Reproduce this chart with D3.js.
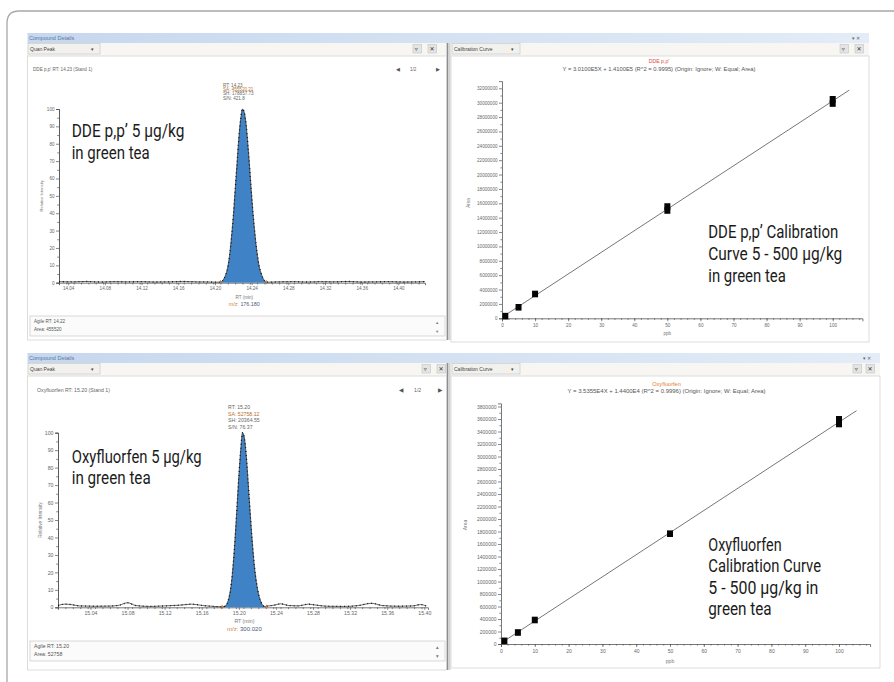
<!DOCTYPE html>
<html><head><meta charset="utf-8">
<script src="https://cdn.jsdelivr.net/npm/d3@7"></script>
<style>
body{margin:0;background:#fff}
svg{display:block}
.ui{font-family:"Liberation Sans","DejaVu Sans",sans-serif;}
.ann{font-family:Roboto,"Liberation Sans",sans-serif;font-size:17.5px;font-weight:400;fill:#1b1b1b;}
</style></head>
<body>
<svg id="c" width="894" height="682"></svg>
<script>
// ---------------- DATA ----------------
// DDE p,p' chromatogram (RT in min, relative intensity %)
const ddeRTTicks = [14.04,14.08,14.12,14.16,14.20,14.24,14.28,14.32,14.36,14.40];
const ddeBaseRT  = [14.030,14.045,14.060,14.075,14.090,14.105,14.120,14.135,14.150,14.165,14.180,14.195,14.204,14.258,14.270,14.285,14.300,14.315,14.330,14.345,14.360,14.375,14.390,14.405,14.420,14.429];
const ddeBaseInt = [0.6,0.5,0.7,0.4,0.6,0.5,0.6,0.4,0.5,0.7,0.5,0.4,0.3,0.3,0.5,0.6,0.4,0.6,0.5,0.7,0.4,0.5,0.6,0.4,0.5,0.6];
const ddePeakRT  = [14.206,14.208,14.210,14.212,14.214,14.216,14.218,14.220,14.222,14.224,14.226,14.228,14.230,14.232,14.234,14.236,14.238,14.240,14.242,14.244,14.246,14.248,14.250,14.252,14.254,14.256];
const ddePeakInt = [0.3,1,2.5,5,9,16,26,38,53,68,83,94,100,98,91,79,65,50,37,26,17,10,6,3,1.2,0.3];
const ddeIntegration = [14.206,14.256];

// Oxyfluorfen chromatogram
const oxyRTTicks = [15.04,15.08,15.12,15.16,15.20,15.24,15.28,15.32,15.36,15.40];
const oxyBaseRT  = [15.005,15.012,15.020,15.028,15.045,15.061,15.071,15.080,15.089,15.104,15.120,15.136,15.149,15.161,15.173,15.181,15.230,15.238,15.245,15.254,15.264,15.275,15.284,15.296,15.313,15.329,15.343,15.355,15.372,15.388,15.396,15.402];
const oxyBaseInt = [1.0,1.8,1.5,0.8,0.6,0.7,1.2,2.6,1.0,0.5,0.8,1.2,1.8,1.0,0.5,0.3,0.6,1.2,2.0,1.0,0.8,1.8,1.2,0.6,0.5,1.0,2.3,1.0,0.6,0.8,1.6,0.8];
const oxyPeakRT  = [15.183,15.186,15.188,15.190,15.192,15.194,15.196,15.198,15.200,15.202,15.204,15.206,15.208,15.210,15.212,15.214,15.216,15.218,15.220,15.222,15.224,15.226,15.229];
const oxyPeakInt = [0.3,1,3,7,14,25,40,57,75,90,100,97,87,72,56,41,28,18,11,6,3,1,0.4];
const oxyIntegration = [15.182,15.230];

const intensityTicks = [0,10,20,30,40,50,60,70,80,90,100];

// Calibration curves (ppb, area)
const ddeCalX    = [1,5,10,50,50,100,100];
const ddeCalArea = [300000,1530000,3380000,15000000,15550000,29880000,30470000];
const ddeFit     = {slope:301000, intercept:141000};
const ddeAreaTicks = [0,2000000,4000000,6000000,8000000,10000000,12000000,14000000,16000000,18000000,20000000,22000000,24000000,26000000,28000000,30000000,32000000];

const oxyCalX    = [1,5,10,50,100,100];
const oxyCalArea = [50000,184000,384000,1765000,3520000,3595000];
const oxyFit     = {slope:35355, intercept:14400};
const oxyAreaTicks = [0,200000,400000,600000,800000,1000000,1200000,1400000,1600000,1800000,2000000,2200000,2400000,2600000,2800000,3000000,3200000,3400000,3600000,3800000];

const ppbTicks = [0,10,20,30,40,50,60,70,80,90,100];

// Texts
const txt = {
  details:"Compound Details", quan:"Quan Peak", calib:"Calibration Curve",
  ddeHeader:"DDE p,p'   RT: 14.23   (Stand 1)", oxyHeader:"Oxyfluorfen   RT: 15.20   (Stand 1)",
  ddePeakInfo:["RT: 14.23","SA: 455520.21","SH: 178857.73","S/N: 421.8"],
  oxyPeakInfo:["RT: 15.20","SA: 52758.12","SH: 20364.55","S/N: 76.37"],
  ddeMz:"176.180", oxyMz:"300.020",
  ddeInfo:["Agile RT: 14.22","Area: 455520"], oxyInfo:["Agile RT: 15.20","Area: 52758"],
  ddeName:"DDE p,p'", oxyName:"Oxyfluorfen",
  ddeEq:"Y = 3.0100E5X + 1.4100E5  (R^2 = 0.9995)  (Origin: Ignore; W: Equal; Area)",
  oxyEq:"Y = 3.5355E4X + 1.4400E4  (R^2 = 0.9996)  (Origin: Ignore; W: Equal; Area)",
  ddeAnnL:["DDE p,p\u2019 5 \u00b5g/kg","in green tea"],
  ddeAnnR:["DDE p,p\u2019 Calibration","Curve 5 - 500 \u00b5g/kg","in green tea"],
  oxyAnnL:["Oxyfluorfen 5 \u00b5g/kg","in green tea"],
  oxyAnnR:["Oxyfluorfen","Calibration Curve","5 - 500 \u00b5g/kg in","green tea"]
};

// ---------------- DRAW ----------------
const svg = d3.select("#c");
svg.append("rect").attr("width",894).attr("height",682).attr("fill","#fff");
const defs = svg.append("defs");
const gr = defs.append("linearGradient").attr("id","band").attr("x1","0").attr("x2","1").attr("y1","0").attr("y2","0");
gr.append("stop").attr("offset","0").attr("stop-color","#c6d7ee");
gr.append("stop").attr("offset","1").attr("stop-color","#e3ecf7");

// outer frame
svg.append("path").attr("d","M7,682 V23 Q7,11 19,11 H894").attr("fill","none").attr("stroke","#a8a8a8").attr("stroke-width",1.3);

function chrome(cfg){
  const g = svg.append("g").attr("class","ui");
  g.append("rect").attr("x",27.5).attr("y",cfg.y0).attr("width",cfg.xr-27.5).attr("height",10).attr("fill","url(#band)");
  g.append("text").attr("x",29).attr("y",cfg.y0+7).attr("font-size",5.5).attr("fill","#5a77a0").text(txt.details);
  g.append("text").attr("x",cfg.xr-17).attr("y",cfg.y0+6.5).attr("font-size",5).attr("fill","#666").text("\u25be  \u2715");
  g.append("rect").attr("x",27.5).attr("y",cfg.y0+10).attr("width",cfg.xr-27.5).attr("height",13).attr("fill","#f7f6f3");
  g.append("rect").attr("x",27.5).attr("y",cfg.y0+23).attr("width",419).attr("height",cfg.yl-cfg.y0-23).attr("fill","#fff").attr("stroke","#d4d4d4").attr("stroke-width",0.8);
  g.append("rect").attr("x",451).attr("y",cfg.y0+23).attr("width",cfg.xr-451).attr("height",cfg.yr-cfg.y0-23).attr("fill","#fff").attr("stroke","#d4d4d4").attr("stroke-width",0.8);
  g.append("rect").attr("x",446).attr("y",cfg.y0+10).attr("width",4.5).attr("height",cfg.yl-cfg.y0-10).attr("fill","#d2d2d2");
  g.append("line").attr("x1",447.5).attr("x2",447.5).attr("y1",cfg.y0+10).attr("y2",cfg.yl).attr("stroke","#8d8d8d").attr("stroke-width",1);
  [[28,72,txt.quan],[452,68,txt.calib]].forEach(d=>{
    g.append("rect").attr("x",d[0]).attr("y",cfg.y0+10.5).attr("width",d[1]).attr("height",10.5).attr("fill","#f2f1ee").attr("stroke","#c9c9c9").attr("stroke-width",0.7);
    g.append("text").attr("x",d[0]+2).attr("y",cfg.y0+17.8).attr("font-size",5).attr("fill","#444").text(d[2]);
    g.append("text").attr("x",d[0]+d[1]-9).attr("y",cfg.y0+17.8).attr("font-size",5).attr("fill","#444").text("\u25be");
  });
  cfg.buttons.forEach(bx=>{
    g.append("rect").attr("x",bx).attr("y",cfg.y0+11.5).attr("width",8.5).attr("height",8.5).attr("fill","#e4e4e4").attr("stroke","#c4c4c4").attr("stroke-width",0.6);
  });
  g.append("text").attr("x",cfg.buttons[0]+1.8).attr("y",cfg.y0+18.3).attr("font-size",6).attr("fill","#333").text("\u25bf");
  g.append("text").attr("x",cfg.buttons[1]+1.6).attr("y",cfg.y0+18.3).attr("font-size",6).attr("fill","#333").text("\u2715");
  g.append("text").attr("x",cfg.buttons[2]+1.8).attr("y",cfg.y0+18.3).attr("font-size",6).attr("fill","#333").text("\u25bf");
  g.append("text").attr("x",cfg.buttons[3]+1.6).attr("y",cfg.y0+18.3).attr("font-size",6).attr("fill","#333").text("\u2715");
}

chrome({y0:33,xr:869,yl:340,yr:342,buttons:[413,428,840,855]});
chrome({y0:353,xr:880,yl:670,yr:668,buttons:[422,437,853,866]});

function styleAxis(sel,fs){
  sel.selectAll("path.domain").attr("stroke","#555").attr("stroke-width",0.8);
  sel.selectAll(".tick line").attr("stroke","#555").attr("stroke-width",0.7);
  sel.selectAll(".tick text").attr("font-size",fs).attr("fill","#666").attr("font-family","Liberation Sans, sans-serif");
}

function chromatogram(c){
  const g = svg.append("g");
  const x = d3.scaleLinear().domain(c.xd).range(c.xr);
  const y = d3.scaleLinear().domain([0,100]).range(c.yr);
  const fs = c.fs;
  g.append("text").attr("class","ui").attr("x",c.hx).attr("y",c.hy).attr("font-size",fs).attr("fill","#666").text(c.header);
  g.append("text").attr("class","ui").attr("x",c.nav[0]).attr("y",c.hy).attr("font-size",fs+0.5).attr("fill","#555").text("\u25c0");
  g.append("text").attr("class","ui").attr("x",c.nav[1]).attr("y",c.hy).attr("font-size",fs).attr("fill","#666").text("1/2");
  g.append("text").attr("class","ui").attr("x",c.nav[2]).attr("y",c.hy).attr("font-size",fs+0.5).attr("fill","#555").text("\u25b6");
  const ya = g.append("g").attr("transform",`translate(${c.xr[0]},0)`).call(d3.axisLeft(y).tickValues(intensityTicks).tickSize(3).tickPadding(1.5));
  styleAxis(ya,fs);
  const yminor = g.append("g").attr("transform",`translate(${c.xr[0]},0)`).call(d3.axisLeft(y).tickValues(d3.range(5,100,10)).tickSize(1.8).tickFormat(""));
  styleAxis(yminor,fs);
  const xa = g.append("g").attr("transform",`translate(0,${c.yr[0]})`).call(d3.axisBottom(x).tickValues(c.ticks).tickSize(2.5).tickPadding(2).tickFormat(d3.format(".2f")));
  styleAxis(xa,fs);
  const minorVals = d3.range(c.xd[0],c.xd[1],0.008);
  const xminor = g.append("g").attr("transform",`translate(0,${c.yr[0]})`).call(d3.axisBottom(x).tickValues(minorVals).tickSize(1.8).tickFormat(""));
  styleAxis(xminor,fs);
  xminor.select("path.domain").remove();
  g.append("text").attr("class","ui").attr("transform",`translate(${c.ylx},${(c.yr[0]+c.yr[1])/2}) rotate(-90)`).attr("text-anchor","middle").attr("font-size",fs-0.5).attr("fill","#777").text("Relative Intensity");
  const pts = c.baseRT.map((r,i)=>[r,c.baseInt[i]]).concat(c.peakRT.map((r,i)=>[r,c.peakInt[i]])).sort((a,b)=>a[0]-b[0]);
  const peak = c.peakRT.map((r,i)=>[r,c.peakInt[i]]);
  g.append("path").datum(peak).attr("d",d3.area().x(d=>x(d[0])).y0(y(0)).y1(d=>y(d[1])).curve(d3.curveMonotoneX)).attr("fill","#3f83c6");
  g.append("path").datum(pts).attr("d",d3.line().x(d=>x(d[0])).y(d=>y(d[1])).curve(d3.curveMonotoneX)).attr("fill","none").attr("stroke","#2a2a2a").attr("stroke-width",0.7);
  g.append("path").datum(pts).attr("d",d3.line().x(d=>x(d[0])).y(d=>y(d[1])).curve(d3.curveMonotoneX)).attr("fill","none").attr("stroke","#111").attr("stroke-width",1.3).attr("stroke-dasharray","0.9 3");
  c.integ.forEach(r=>{
    g.append("line").attr("x1",x(r)).attr("x2",x(r)).attr("y1",y(0)+1.5).attr("y2",y(0)-2.5).attr("stroke","#e07030").attr("stroke-width",1);
  });
  c.peakInfo.forEach((t,i)=>{
    g.append("text").attr("class","ui").attr("x",c.pix).attr("y",c.piy+i*c.pil).attr("font-size",fs).attr("fill",i===1?"#b8702c":"#666").text(t);
  });
  const cx = x(c.peakRT[Math.floor(c.peakRT.length/2)]);
  g.append("text").attr("class","ui").attr("x",cx).attr("y",c.rty).attr("text-anchor","middle").attr("font-size",fs).attr("fill","#777").text("RT (min)");
  const mz = g.append("text").attr("class","ui").attr("x",cx).attr("y",c.rty+c.mzd).attr("text-anchor","middle").attr("font-size",fs+0.8);
  mz.append("tspan").attr("fill","#d08040").text("m/z: ");
  mz.append("tspan").attr("fill","#4a5a7a").text(c.mz);
  g.append("rect").attr("x",30).attr("y",c.box[0]).attr("width",415).attr("height",c.box[1]).attr("fill","#fbfbfb").attr("stroke","#cfcfcf").attr("stroke-width",0.8);
  c.info.forEach((t,i)=>{
    g.append("text").attr("class","ui").attr("x",34).attr("y",c.box[0]+c.box[1]*0.36+i*c.box[1]*0.38).attr("font-size",fs).attr("fill","#555").text(t);
  });
  g.append("text").attr("class","ui").attr("x",436).attr("y",c.box[0]+c.box[1]*0.38).attr("font-size",fs).attr("fill","#777").text("\u25b4");
  g.append("text").attr("class","ui").attr("x",436).attr("y",c.box[0]+c.box[1]*0.85).attr("font-size",fs).attr("fill","#777").text("\u25be");
  c.ann.forEach((t,i)=>{
    g.append("text").attr("class","ann").attr("x",c.annX).attr("y",c.annY[i]).attr("textLength",c.annW[i]).attr("lengthAdjust","spacingAndGlyphs").text(t);
  });
}

chromatogram({xd:[14.030,14.429],xr:[59,425],yr:[282.7,109],fs:4.6,
  ticks:ddeRTTicks,baseRT:ddeBaseRT,baseInt:ddeBaseInt,peakRT:ddePeakRT,peakInt:ddePeakInt,integ:ddeIntegration,
  header:txt.ddeHeader,hx:33,hy:71,nav:[396,410,436],ylx:43,
  peakInfo:txt.ddePeakInfo,pix:223,piy:86.5,pil:4.4,rty:298.5,mzd:7.5,mz:txt.ddeMz,
  box:[316,20],info:txt.ddeInfo,
  ann:txt.ddeAnnL,annX:71.7,annY:[137.3,158.8],annW:[112.7,78]});

chromatogram({xd:[15.005,15.404],xr:[58,428],yr:[607.3,432.7],fs:5.2,
  ticks:oxyRTTicks,baseRT:oxyBaseRT,baseInt:oxyBaseInt,peakRT:oxyPeakRT,peakInt:oxyPeakInt,integ:oxyIntegration,
  header:txt.oxyHeader,hx:37,hy:391.5,nav:[399,414,438],ylx:42,
  peakInfo:txt.oxyPeakInfo,pix:228,piy:409,pil:6.5,rty:623,mzd:8,mz:txt.oxyMz,
  box:[641,20],info:txt.oxyInfo,
  ann:txt.oxyAnnL,annX:71.7,annY:[462.5,484],annW:[130,79]});

function calibration(c){
  const g = svg.append("g");
  const x = d3.scaleLinear().domain(c.xd).range(c.xr);
  const y = d3.scaleLinear().domain(c.yd).range(c.yr);
  const fs = c.fs;
  g.append("text").attr("class","ui").attr("x",c.tx).attr("y",c.ty).attr("text-anchor","middle").attr("font-size",fs+0.6).attr("fill",c.tcol).text(c.title);
  g.append("text").attr("class","ui").attr("x",c.tx).attr("y",c.ty+7.5).attr("text-anchor","middle").attr("font-size",fs).attr("fill","#555").attr("textLength",c.eqW).attr("lengthAdjust","spacingAndGlyphs").text(c.eq);
  const ya = g.append("g").attr("transform",`translate(${c.xr[0]},0)`).call(d3.axisLeft(y).tickValues(c.yticks).tickSize(3).tickPadding(1.5).tickFormat(d3.format("d")));
  styleAxis(ya,fs);
  const step = c.yticks[1]-c.yticks[0];
  const ym = g.append("g").attr("transform",`translate(${c.xr[0]},0)`).call(d3.axisLeft(y).tickValues(c.yticks.map(v=>v+step/2).filter(v=>v<c.yd[1])).tickSize(1.6).tickFormat(""));
  styleAxis(ym,fs); ym.select("path.domain").remove();
  const xa = g.append("g").attr("transform",`translate(0,${c.yr[0]})`).call(d3.axisBottom(x).tickValues(ppbTicks).tickSize(3).tickPadding(2.5));
  styleAxis(xa,fs);
  const xm = g.append("g").attr("transform",`translate(0,${c.yr[0]})`).call(d3.axisBottom(x).tickValues(d3.range(0,c.xd[1],2)).tickSize(1.6).tickFormat(""));
  styleAxis(xm,fs); xm.select("path.domain").remove();
  g.append("text").attr("class","ui").attr("x",(c.xr[0]+x(100))/2).attr("y",c.yr[0]+c.ppbd).attr("text-anchor","middle").attr("font-size",fs).attr("fill","#777").text("ppb");
  g.append("text").attr("class","ui").attr("transform",`translate(${c.alx},${c.aly}) rotate(-90)`).attr("text-anchor","middle").attr("font-size",fs).attr("fill","#777").text("Area");
  const lx = [0, c.lineEnd];
  g.append("line").attr("x1",x(lx[0])).attr("y1",y(c.fit.intercept+c.fit.slope*lx[0])).attr("x2",x(lx[1])).attr("y2",y(c.fit.intercept+c.fit.slope*lx[1])).attr("stroke","#777").attr("stroke-width",1);
  g.selectAll("rect.pt").data(c.px.map((v,i)=>[v,c.py[i]])).join("rect").attr("class","pt")
    .attr("x",d=>x(d[0])-3).attr("y",d=>y(d[1])-3.3).attr("width",6).attr("height",6.6).attr("fill","#050505");
  c.ann.forEach((t,i)=>{
    g.append("text").attr("class","ann").attr("x",c.annX).attr("y",c.annY[i]).attr("textLength",c.annW[i]).attr("lengthAdjust","spacingAndGlyphs").text(t);
  });
}

calibration({xd:[0,109],xr:[502,502+109*3.307],yd:[0,33000000],yr:[318.3,318.3-33*7.1875],fs:4.6,
  title:txt.ddeName,tcol:"#e0483c",tx:659,ty:63,eq:txt.ddeEq,eqW:193,yticks:ddeAreaTicks,
  ppbd:17,alx:470,aly:203,fit:ddeFit,lineEnd:105,px:ddeCalX,py:ddeCalArea,
  ann:txt.ddeAnnR,annX:708.3,annY:[238.3,260.3,282.3],annW:[130,134,77.5]});

calibration({xd:[0,109.2],xr:[501,501+109.2*3.38],yd:[0,3850000],yr:[644,644-3.85*62.5],fs:5,
  title:txt.oxyName,tcol:"#e8792e",tx:666.5,ty:385.5,eq:txt.oxyEq,eqW:198,yticks:oxyAreaTicks,
  ppbd:18.5,alx:467,aly:525,fit:oxyFit,lineEnd:105.2,px:oxyCalX,py:oxyCalArea,
  ann:txt.oxyAnnR,annX:708.3,annY:[550.7,572.2,593.7,615.2],annW:[73.3,112.7,110,63.3]});
</script>
</body></html>
